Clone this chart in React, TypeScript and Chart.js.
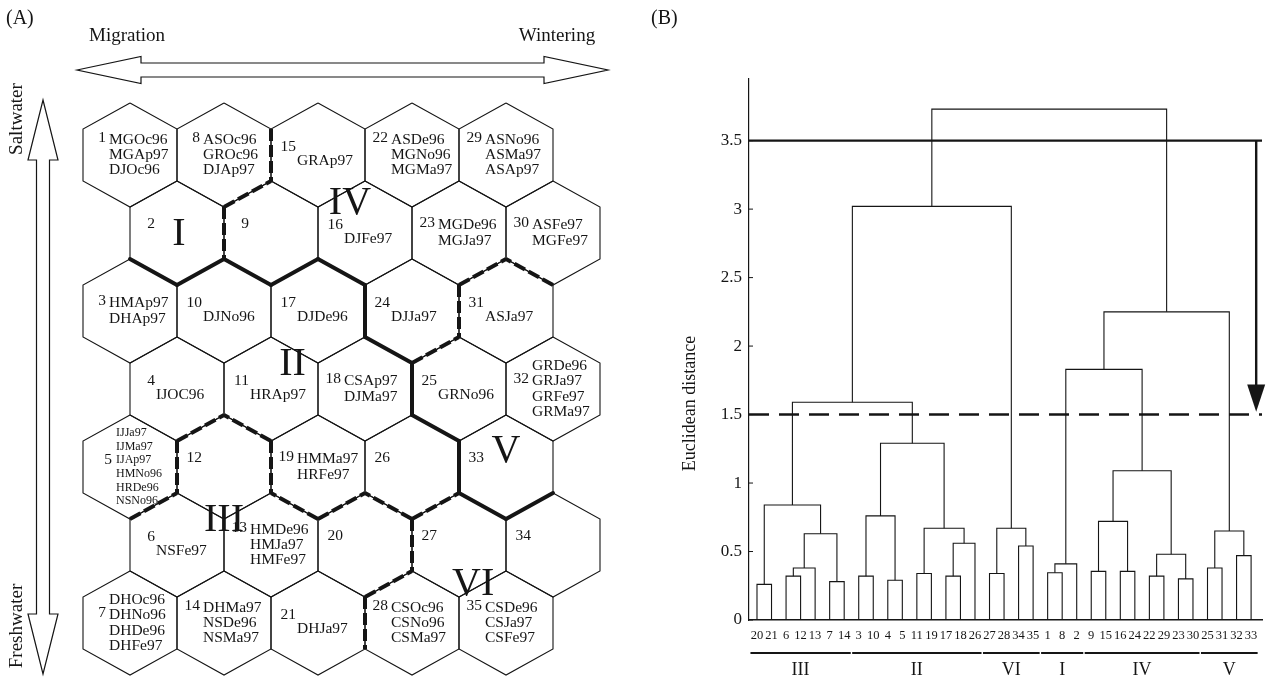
import React, { useEffect, useRef } from "react";
import { Chart, registerables } from "chart.js";

Chart.register(...registerables);

const SERIF = '"Liberation Serif", "Times New Roman", Times, serif';
const INK = "#151515";

/* ---------------- Panel A data : 5 x 7 hexagonal map ---------------- */
const mapColumns = 5;
const mapRows = 7;
// names listed per cell, cell number = position + 1 (numbered down each column)
const cellNames: string[][] = [
  ["MGOc96", "MGAp97", "DJOc96"], // 1
  [], // 2
  ["HMAp97", "DHAp97"], // 3
  ["IJOC96"], // 4
  ["IJJa97", "IJMa97", "IJAp97", "HMNo96", "HRDe96", "NSNo96"], // 5
  ["NSFe97"], // 6
  ["DHOc96", "DHNo96", "DHDe96", "DHFe97"], // 7
  ["ASOc96", "GROc96", "DJAp97"], // 8
  [], // 9
  ["DJNo96"], // 10
  ["HRAp97"], // 11
  [], // 12
  ["HMDe96", "HMJa97", "HMFe97"], // 13
  ["DHMa97", "NSDe96", "NSMa97"], // 14
  ["GRAp97"], // 15
  ["DJFe97"], // 16
  ["DJDe96"], // 17
  ["CSAp97", "DJMa97"], // 18
  ["HMMa97", "HRFe97"], // 19
  [], // 20
  ["DHJa97"], // 21
  ["ASDe96", "MGNo96", "MGMa97"], // 22
  ["MGDe96", "MGJa97"], // 23
  ["DJJa97"], // 24
  ["GRNo96"], // 25
  [], // 26
  [], // 27
  ["CSOc96", "CSNo96", "CSMa97"], // 28
  ["ASNo96", "ASMa97", "ASAp97"], // 29
  ["ASFe97", "MGFe97"], // 30
  ["ASJa97"], // 31
  ["GRDe96", "GRJa97", "GRFe97", "GRMa97"], // 32
  [], // 33
  [], // 34
  ["CSDe96", "CSJa97", "CSFe97"], // 35
];
const mapAxisLabels = ["Migration", "Wintering", "Saltwater", "Freshwater"];
const panelLabels = ["(A)", "(B)"];

/* ---------------- Panel B data : dendrogram ---------------- */
const leafOrder = [20, 21, 6, 12, 13, 7, 14, 3, 10, 4, 5, 11, 19, 17, 18, 26, 27, 28, 34, 35, 1, 8, 2, 9, 15, 16, 24, 22, 29, 23, 30, 25, 31, 32, 33];
// merge k joins mergeLeft[k] and mergeRight[k]; numbers are leaves, "mK" refers to merge K
const mergeLeft: (number | string)[] = [20, 6, "m1", 7, "m2", "m0", 3, 4, "m6", 11, 17, "m10", "m9", "m8", "m5", 27, 34, "m15", "m14", 1, "m19", 9, 16, "m21", 22, 23, "m24", "m23", "m20", 25, 32, "m29", "m28", "m18"];
const mergeRight: (number | string)[] = [21, 12, 13, 14, "m3", "m4", 10, 5, "m7", 19, 18, 26, "m11", "m12", "m13", 28, 35, "m16", "m17", 8, 2, 15, 24, "m22", 29, 30, "m25", "m26", "m27", 31, 33, "m30", "m31", "m32"];
const mergeHeight = [0.26, 0.32, 0.38, 0.28, 0.63, 0.84, 0.32, 0.29, 0.76, 0.34, 0.32, 0.56, 0.67, 1.29, 1.59, 0.34, 0.54, 0.67, 3.02, 0.345, 0.41, 0.355, 0.355, 0.72, 0.32, 0.3, 0.48, 1.09, 1.83, 0.38, 0.47, 0.65, 2.25, 3.73];
const majorCut = 3.5;
const clusterCut = 1.5;
const clusterNames = ["III", "II", "VI", "I", "IV", "V"];
const distanceMax = 3.95;
const distanceStep = 0.5;
const distanceTitle = "Euclidean distance";

/* ---------------- layout (not data) ---------------- */
const H = 679;
const A_W = 640;
const B_W = 627;
const HEX = { x0: 130, y0: 155, dx: 94, dy: 78 };
const LEAF_MIN = -0.55;
const LEAF_MAX = 34.75;
const ARROW_X = 34.35;
const romanSpots: Record<string, { u: number; v: number }> = {
  I: { u: 0.52, v: 1.02 },
  IV: { u: 2.34, v: 0.62 },
  II: { u: 1.73, v: 2.69 },
  V: { u: 4.0, v: 3.8 },
  III: { u: 1.0, v: 4.68 },
  VI: { u: 3.65, v: 5.5 },
};

/* ---------------- tree helpers ---------------- */
type NodeRef = number | string;
const isLeaf = (r: NodeRef) => typeof r === "number";
const mIdx = (r: NodeRef) => Number(String(r).slice(1));
const mergeX: number[] = [];
const nodeX = (r: NodeRef): number => (isLeaf(r) ? leafOrder.indexOf(r as number) : mergeX[mIdx(r)]);
const nodeH = (r: NodeRef): number => (isLeaf(r) ? 0 : mergeHeight[mIdx(r)]);
mergeLeft.forEach((l, i) => {
  mergeX[i] = (nodeX(l) + nodeX(mergeRight[i])) / 2;
});
const rootRef = "m" + (mergeHeight.length - 1);
const leavesOf = (r: NodeRef): number[] =>
  isLeaf(r) ? [r as number] : [...leavesOf(mergeLeft[mIdx(r)]), ...leavesOf(mergeRight[mIdx(r)])];
const cutTree = (r: NodeRef, h: number): NodeRef[] =>
  isLeaf(r) || nodeH(r) < h ? [r] : [...cutTree(mergeLeft[mIdx(r)], h), ...cutTree(mergeRight[mIdx(r)], h)];
const clusterRefs = cutTree(rootRef, clusterCut);
const majorRefs = cutTree(rootRef, majorCut);
const clusterOf: Record<number, number> = {};
const majorOf: Record<number, number> = {};
clusterRefs.forEach((r, k) => leavesOf(r).forEach((l) => (clusterOf[l] = k)));
majorRefs.forEach((r, k) => leavesOf(r).forEach((l) => (majorOf[l] = k)));

/* ---------------- map helpers ---------------- */
const cellPos = (n: number) => {
  const c = Math.floor((n - 1) / mapRows);
  const r = (n - 1) % mapRows;
  return { c, r, u: c + (r % 2 ? 0.5 : 0), v: r };
};
const cellAt = (c: number, r: number) =>
  c >= 0 && c < mapColumns && r >= 0 && r < mapRows ? c * mapRows + r + 1 : 0;
const cellCount = mapColumns * mapRows;

function buildMapDatasets() {
  const ds: any[] = [];
  for (let n = 1; n <= cellCount; n++) {
    const { u, v } = cellPos(n);
    ds.push({
      data: [
        { x: u, y: v - 2 / 3 },
        { x: u + 0.5, y: v - 1 / 3 },
        { x: u + 0.5, y: v + 1 / 3 },
        { x: u, y: v + 2 / 3 },
        { x: u - 0.5, y: v + 1 / 3 },
        { x: u - 0.5, y: v - 1 / 3 },
        { x: u, y: v - 2 / 3 },
      ],
      showLine: true,
      pointRadius: 0,
      borderColor: INK,
      borderWidth: 1.1,
      borderJoinStyle: "miter",
      fill: false,
      clip: false,
      order: 2,
    });
  }
  for (let n = 1; n <= cellCount; n++) {
    const { c, r, u, v } = cellPos(n);
    const nb: [number, number[][]][] = [
      [cellAt(c + 1, r), [[u + 0.5, v - 1 / 3], [u + 0.5, v + 1 / 3]]],
      [cellAt(r % 2 ? c : c - 1, r + 1), [[u, v + 2 / 3], [u - 0.5, v + 1 / 3]]],
      [cellAt(r % 2 ? c + 1 : c, r + 1), [[u, v + 2 / 3], [u + 0.5, v + 1 / 3]]],
    ];
    nb.forEach(([m, seg]) => {
      if (!m || clusterOf[m] === clusterOf[n]) return;
      const solid = majorOf[m] !== majorOf[n];
      ds.push({
        data: seg.map(([x, y]) => ({ x, y })),
        showLine: true,
        pointRadius: 0,
        borderColor: INK,
        borderWidth: 4,
        borderDash: solid ? [] : [12, 4],
        borderCapStyle: solid ? "round" : "butt",
        fill: false,
        clip: false,
        order: 0,
      });
    });
  }
  return ds;
}

function drawDoubleArrow(ctx: CanvasRenderingContext2D, x1: number, y1: number, x2: number, y2: number, headLen: number, headHalf: number, shaftHalf: number) {
  const len = Math.hypot(x2 - x1, y2 - y1);
  const ang = Math.atan2(y2 - y1, x2 - x1);
  ctx.save();
  ctx.translate(x1, y1);
  ctx.rotate(ang);
  ctx.beginPath();
  ctx.moveTo(0, 0);
  ctx.lineTo(headLen, -headHalf);
  ctx.lineTo(headLen, -shaftHalf);
  ctx.lineTo(len - headLen, -shaftHalf);
  ctx.lineTo(len - headLen, -headHalf);
  ctx.lineTo(len, 0);
  ctx.lineTo(len - headLen, headHalf);
  ctx.lineTo(len - headLen, shaftHalf);
  ctx.lineTo(headLen, shaftHalf);
  ctx.lineTo(headLen, headHalf);
  ctx.closePath();
  ctx.fillStyle = "#fff";
  ctx.fill();
  ctx.lineWidth = 1.2;
  ctx.strokeStyle = INK;
  ctx.stroke();
  ctx.restore();
}

const mapDecor = {
  id: "mapDecor",
  afterDatasetsDraw(chart: any) {
    const { ctx } = chart;
    const xs = chart.scales.x;
    const ys = chart.scales.y;
    ctx.save();
    ctx.fillStyle = INK;
    ctx.textBaseline = "middle";
    ctx.font = `20px ${SERIF}`;
    ctx.textAlign = "left";
    ctx.fillText(panelLabels[0], 6, 19);
    ctx.font = `19px ${SERIF}`;
    ctx.textAlign = "center";
    ctx.fillText(mapAxisLabels[0], 127, 36);
    ctx.fillText(mapAxisLabels[1], 557, 36);
    drawDoubleArrow(ctx, 77, 70, 608, 70, 64, 13.5, 7);
    drawDoubleArrow(ctx, 43, 100, 43, 674, 60, 15, 6.5);
    ctx.fillStyle = INK;
    [[mapAxisLabels[2], 119], [mapAxisLabels[3], 626]].forEach(([t, cy]) => {
      ctx.save();
      ctx.translate(17, cy as number);
      ctx.rotate(-Math.PI / 2);
      ctx.font = `19px ${SERIF}`;
      ctx.textAlign = "center";
      ctx.fillText(t as string, 0, 0);
      ctx.restore();
    });

    // cell texts
    for (let n = 1; n <= cellCount; n++) {
      const { u, v } = cellPos(n);
      const cx = xs.getPixelForValue(u);
      const cy = ys.getPixelForValue(v);
      const names = cellNames[n - 1];
      ctx.font = `15.5px ${SERIF}`;
      if (names.length === 0) {
        ctx.textAlign = "right";
        ctx.fillText(String(n), cx - 22, cy - 9);
      } else if (names.length === 1) {
        ctx.textAlign = "right";
        ctx.fillText(String(n), cx - 22, cy - 8);
        ctx.textAlign = "left";
        ctx.fillText(names[0], cx - 21, cy + 6);
      } else {
        const small = names.length > 4;
        const lh = small ? 13.6 : 15.3;
        const top = cy - ((names.length - 1) * lh) / 2;
        const numLine = names.length >= 4 ? Math.floor((names.length - 1) / 2) : 0;
        ctx.textAlign = "right";
        ctx.fillText(String(n), cx - (small ? 18 : 24), top + numLine * lh - (small ? 0 : 2));
        ctx.font = `${small ? 12 : 15.5}px ${SERIF}`;
        ctx.textAlign = "left";
        names.forEach((s, i) => ctx.fillText(s, cx + (small ? -14 : -21), top + i * lh));
      }
    }

    // cluster numerals
    ctx.font = `40px ${SERIF}`;
    ctx.textAlign = "center";
    clusterNames.forEach((name) => {
      const p = romanSpots[name];
      if (!p) return;
      ctx.fillText(name, xs.getPixelForValue(p.u), ys.getPixelForValue(p.v));
    });
    ctx.restore();
  },
};

function buildDendroDatasets() {
  const ds: any[] = mergeLeft.map((l, i) => {
    const r = mergeRight[i];
    const h = mergeHeight[i];
    return {
      data: [
        { x: nodeX(l), y: nodeH(l) },
        { x: nodeX(l), y: h },
        { x: nodeX(r), y: h },
        { x: nodeX(r), y: nodeH(r) },
      ],
      showLine: true,
      pointRadius: 0,
      borderColor: INK,
      borderWidth: 1.1,
      fill: false,
      order: 2,
    };
  });
  ds.push({
    data: [{ x: LEAF_MIN, y: majorCut }, { x: LEAF_MAX, y: majorCut }],
    showLine: true, pointRadius: 0, borderColor: INK, borderWidth: 2.4, order: 0,
  });
  ds.push({
    data: [{ x: ARROW_X, y: majorCut }, { x: ARROW_X, y: clusterCut + 0.2 }],
    showLine: true, pointRadius: 0, borderColor: INK, borderWidth: 2.4, order: 0,
  });
  ds.push({
    data: [{ x: LEAF_MIN, y: clusterCut }, { x: LEAF_MAX, y: clusterCut }],
    showLine: true, pointRadius: 0, borderColor: INK, borderWidth: 2.4, borderDash: [20, 10], order: 0,
  });
  return ds;
}

const dendroDecor = {
  id: "dendroDecor",
  afterDraw(chart: any) {
    const { ctx, chartArea: a } = chart;
    const xs = chart.scales.x;
    const ys = chart.scales.y;
    ctx.save();
    ctx.fillStyle = INK;
    ctx.strokeStyle = INK;
    ctx.textBaseline = "middle";
    ctx.font = `20px ${SERIF}`;
    ctx.textAlign = "left";
    ctx.fillText(panelLabels[1], 11, 19);

    ctx.save();
    ctx.translate(a.left - 59, ys.getPixelForValue(1.58));
    ctx.rotate(-Math.PI / 2);
    ctx.font = `18px ${SERIF}`;
    ctx.textAlign = "center";
    ctx.fillText(distanceTitle, 0, 0);
    ctx.restore();

    ctx.lineWidth = 1;
    for (let t = 0; t <= distanceMax; t += distanceStep) {
      const py = ys.getPixelForValue(t);
      ctx.beginPath();
      ctx.moveTo(a.left, py);
      ctx.lineTo(a.left + 4, py);
      ctx.stroke();
    }

    // arrow head
    const ax = xs.getPixelForValue(ARROW_X);
    const tip = ys.getPixelForValue(clusterCut + 0.02);
    const base = ys.getPixelForValue(clusterCut + 0.22);
    ctx.beginPath();
    ctx.moveTo(ax, tip);
    ctx.lineTo(ax - 9, base);
    ctx.lineTo(ax + 9, base);
    ctx.closePath();
    ctx.fill();

    // cluster bars
    clusterRefs.forEach((r, k) => {
      const idx = leavesOf(r).map((l) => leafOrder.indexOf(l));
      const lo = Math.min(...idx);
      const hi = Math.max(...idx);
      const xa = xs.getPixelForValue(lo - 0.45);
      const xb = xs.getPixelForValue(hi + 0.45);
      ctx.lineWidth = 1.8;
      ctx.beginPath();
      ctx.moveTo(xa, a.bottom + 33);
      ctx.lineTo(xb, a.bottom + 33);
      ctx.stroke();
      ctx.font = `18px ${SERIF}`;
      ctx.textAlign = "center";
      ctx.fillText(clusterNames[k], (xa + xb) / 2, a.bottom + 50);
    });
    ctx.restore();
  },
};

export default function App() {
  const refA = useRef<HTMLCanvasElement>(null);
  const refB = useRef<HTMLCanvasElement>(null);

  useEffect(() => {
    Chart.defaults.font.family = SERIF;
    const chartA = new Chart(refA.current as HTMLCanvasElement, {
      type: "scatter",
      data: { datasets: buildMapDatasets() },
      options: {
        responsive: false,
        animation: false,
        devicePixelRatio: 1,
        events: [],
        layout: { padding: 0 },
        plugins: { legend: { display: false }, tooltip: { enabled: false } },
        scales: {
          x: { type: "linear", display: false, min: -HEX.x0 / HEX.dx, max: (A_W - HEX.x0) / HEX.dx },
          y: { type: "linear", display: false, reverse: true, min: -HEX.y0 / HEX.dy, max: (H - HEX.y0) / HEX.dy },
        },
      },
      plugins: [mapDecor],
    } as any);

    const chartB = new Chart(refB.current as HTMLCanvasElement, {
      type: "scatter",
      data: { datasets: buildDendroDatasets() },
      options: {
        responsive: false,
        animation: false,
        devicePixelRatio: 1,
        events: [],
        layout: { padding: { left: 0, top: 79, right: 5, bottom: 0 } },
        plugins: { legend: { display: false }, tooltip: { enabled: false } },
        scales: {
          x: {
            type: "linear",
            min: LEAF_MIN,
            max: LEAF_MAX,
            grid: { display: false, drawTicks: false },
            border: { display: true, color: INK, width: 1.5 },
            afterBuildTicks: (s: any) => {
              s.ticks = leafOrder.map((_, i) => ({ value: i }));
            },
            afterFit: (s: any) => {
              s.height = 59;
            },
            ticks: {
              autoSkip: false,
              maxRotation: 0,
              minRotation: 0,
              padding: 8,
              color: INK,
              font: { size: 12.5, family: SERIF },
              callback: (v: any) => String(leafOrder[Math.round(Number(v))]),
            },
          },
          y: {
            type: "linear",
            min: 0,
            max: distanceMax,
            grid: { display: false, drawTicks: false },
            border: { display: true, color: INK, width: 1.2 },
            afterFit: (s: any) => {
              s.width = 109;
            },
            ticks: {
              stepSize: distanceStep,
              includeBounds: false,
              padding: 7,
              color: INK,
              font: { size: 17, family: SERIF },
              callback: (v: any) => String(Math.round(Number(v) * 100) / 100),
            },
          },
        },
      },
      plugins: [dendroDecor],
    } as any);

    return () => {
      chartA.destroy();
      chartB.destroy();
    };
  }, []);

  return (
    <div style={{ position: "absolute", left: 0, top: 0, width: A_W + B_W, height: H, background: "#fff", overflow: "hidden" }}>
      <canvas ref={refA} width={A_W} height={H} style={{ position: "absolute", left: 0, top: 0 }} />
      <canvas ref={refB} width={B_W} height={H} style={{ position: "absolute", left: A_W, top: 0 }} />
    </div>
  );
}
